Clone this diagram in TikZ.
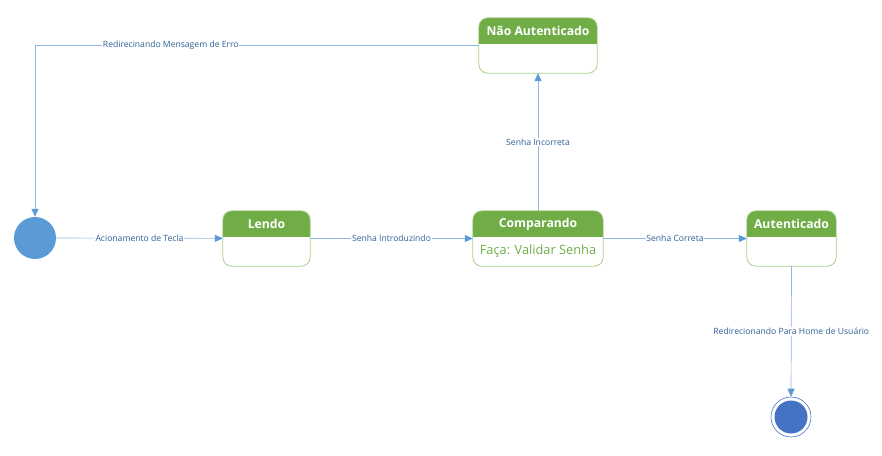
\documentclass[tikz,border=0pt]{standalone}
\usepackage{fontspec}
\setmainfont{Open Sans}
\usetikzlibrary{arrows.meta,calc}
\definecolor{hdr}{HTML}{70AD47}
\definecolor{bord}{HTML}{A9D18E}
\definecolor{lnc}{HTML}{8FB6E0}
\definecolor{tip}{HTML}{5B9BD5}
\definecolor{lbl}{HTML}{2F5F98}
\definecolor{startc}{HTML}{5B9BD5}
\definecolor{endc}{HTML}{4472C4}
\newcommand\mystate[7]{%
  % #1 name, #2 cx, #3 cy, #4 width, #5 height, #6 title, #7 body
  \node[statebox, minimum width=#4, minimum height=#5] (#1) at (#2,#3) {};
  \begin{scope}
    \clip[rounded corners=9] (#1.north west) rectangle (#1.south east);
    \fill[hdr] (#1.north west) rectangle ($(#1.north east)+(0,26.5)$);
  \end{scope}
  \draw[bord, line width=0.8pt, rounded corners=9] (#1.north west) rectangle (#1.south east);
  \node[titletext] (#1-t) at ($(#1.north)+(0,13.5)$) {#6};
  \node[bodytext] (#1-b) at ($(#1.north)+(0,40.5)$) {#7};
}
\begin{document}
\begin{tikzpicture}[x=1pt,y=-1pt,
  statebox/.style={draw=none, inner sep=0pt, rectangle},
  titletext/.style={text=white, font=\bfseries\fontsize{12.2}{14}\selectfont, inner sep=0pt},
  bodytext/.style={text=hdr, font=\fontsize{12.8}{15}\selectfont, inner sep=0pt},
  conn/.style={draw=lnc, line width=0.7pt, -{Triangle[length=8pt,width=7pt,fill=tip,color=tip]}},
  lab/.style={fill=white, text=lbl, font=\fontsize{8.6}{10}\selectfont, inner sep=0.8pt}
]
\useasboundingbox (0,0) rectangle (882,455);

\node[circle, fill=startc, minimum size=42, inner sep=0pt] (start) at (35,238) {};

\mystate{lendo}{266.5}{238.5}{87}{55}{Lendo}{}
\mystate{comp}{538}{238.5}{130}{55}{Comparando}{Faça: Validar Senha}
\mystate{nao}{538}{45.5}{118}{55}{Não Autenticado}{}
\mystate{aut}{791.5}{238.5}{89}{55}{Autenticado}{}

\node[circle, draw=endc, line width=0.6pt, minimum size=40, inner sep=0pt] (final) at (791,417) {};
\node[circle, fill=endc, minimum size=33, inner sep=0pt] (finalin) at (final) {};

\draw[conn] (start) -- node[lab] {Acionamento de Tecla} (lendo);
\draw[conn] (lendo) -- node[lab] {Senha Introduzindo} (comp);
\draw[conn] (comp) -- node[lab] {Senha Correta} (aut);
\draw[conn] (comp) -- node[lab, pos=0.5] {Senha Incorreta} (nao);
\draw[conn] (nao.west) -| node[lab, pos=0.347] {Redirecinando Mensagem de Erro} (start.north);
\draw[conn] (aut.south) -- node[lab, pos=0.5] {Redirecionando Para Home de Usuário} (final.north);
\end{tikzpicture}
\end{document}
